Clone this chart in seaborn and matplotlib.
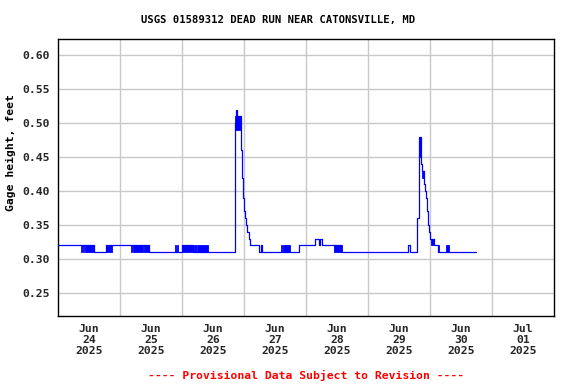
import matplotlib
matplotlib.use("Agg")
import matplotlib.pyplot as plt
import seaborn as sns
import pandas as pd
from matplotlib.ticker import FixedLocator, NullFormatter

# ---- data (hours since 2025-06-24 00:00, gage height in feet) ----
hours = [0.0, 13.9, 18.5, 35.3, 47.9, 52.3, 68.4, 68.6, 68.8, 69.1, 70.7, 71.1,
         71.5, 71.7, 71.9, 72.4, 72.9, 73.3, 73.8, 74.4, 77.7, 78.4, 78.8, 93.4,
         99.6, 101.0, 101.4, 102.1, 109.6, 135.6, 136.1, 139.1, 139.7, 140.4,
         140.8, 141.6, 141.9, 142.3, 142.7, 143.1, 143.6, 144.1, 145.4, 147.0,
         161.8]
gage = [0.32, 0.31, 0.32, 0.31, 0.32, 0.31, 0.38, 0.50, 0.52, 0.51, 0.46, 0.42,
        0.40, 0.39, 0.37, 0.36, 0.35, 0.34, 0.33, 0.32, 0.31, 0.32, 0.31, 0.32,
        0.33, 0.32, 0.33, 0.32, 0.31, 0.32, 0.31, 0.36, 0.48, 0.44,
        0.43, 0.41, 0.40, 0.39, 0.37, 0.35, 0.34, 0.33, 0.32, 0.31,
        0.31]

# rapid fluctuation blocks (start hour, end hour, low, high)
flick_start = [8.8, 9.7, 10.3, 18.5, 28.3, 29.1, 33.3, 45.1, 45.9, 47.9, 52.8, 54.0,
               68.6, 86.3, 87.2, 106.9, 139.7, 140.8, 144.3, 147.0, 150.2]
flick_end = [9.2, 10.1, 13.9, 20.8, 28.8, 32.9, 35.3, 45.6, 46.6, 52.3, 53.4, 58.1,
             70.7, 86.7, 89.8, 110.1, 140.4, 141.6, 145.4, 147.5, 151.4]
flick_lo = [0.31, 0.31, 0.31, 0.31, 0.31, 0.31, 0.31, 0.31, 0.31, 0.31, 0.31, 0.31,
            0.49, 0.31, 0.31, 0.31, 0.45, 0.42, 0.32, 0.31, 0.31]
flick_hi = [0.32, 0.32, 0.32, 0.32, 0.32, 0.32, 0.32, 0.32, 0.32, 0.32, 0.32, 0.32,
            0.51, 0.32, 0.32, 0.32, 0.48, 0.43, 0.33, 0.32, 0.32]

day_labels = ["Jun\n24\n2025", "Jun\n25\n2025", "Jun\n26\n2025", "Jun\n27\n2025",
              "Jun\n28\n2025", "Jun\n29\n2025", "Jun\n30\n2025", "Jul\n01\n2025"]
y_ticks = [0.25, 0.30, 0.35, 0.40, 0.45, 0.50, 0.55, 0.60]

title = "USGS 01589312 DEAD RUN NEAR CATONSVILLE, MD"
ylabel = "Gage height, feet"
footer = "---- Provisional Data Subject to Revision ----"

# ---- plot ----
sns.set_theme(style="white")
plt.rcParams["font.family"] = ["DejaVu Sans Mono", "DejaVu Sans"]
plt.rcParams["font.weight"] = "bold"

fig = plt.figure(figsize=(5.76, 3.84), dpi=100)
ax = fig.add_axes([58 / 576, 1 - 316 / 384, 496 / 576, 277 / 384])

df = pd.DataFrame({"hours": hours, "gage": gage})
sns.lineplot(data=df, x="hours", y="gage", drawstyle="steps-post", color="#0000ff",
             linewidth=0.9, estimator=None, ax=ax, zorder=3)
for s, e, lo, hi in zip(flick_start, flick_end, flick_lo, flick_hi):
    ax.fill_between([s, e], [lo, lo], [hi, hi], color="#0000ff", linewidth=0.6,
                    edgecolor="#0000ff", zorder=3)

ax.set_xlim(0, 24 * len(day_labels))
ax.set_ylim(0.216, 0.624)

ax.xaxis.set_major_locator(FixedLocator([24 * i for i in range(1, len(day_labels))]))
ax.xaxis.set_major_formatter(NullFormatter())
ax.set_xticks([12 + 24 * i for i in range(len(day_labels))], minor=True)
ax.set_xticklabels(day_labels, minor=True, fontsize=8.2, fontweight="bold",
                   linespacing=1.1)
ax.set_yticks(y_ticks)
ax.set_yticklabels([f"{v:.2f}" for v in y_ticks], fontsize=8.2, fontweight="bold")
ax.tick_params(axis="both", which="both", length=0)
ax.tick_params(axis="x", which="minor", pad=6)
ax.tick_params(axis="y", pad=6)

ax.grid(True, which="major", color="#c8c8c8", linewidth=1.0)
ax.set_axisbelow(True)
for sp in ax.spines.values():
    sp.set_color("black")
    sp.set_linewidth(1.0)
    sp.set_visible(True)

ax.set_xlabel("")
ax.set_ylabel("")
fig.text(278 / 576, 1 - 20 / 384, title, ha="center", va="center",
         fontsize=7.6, fontweight="bold", color="black")
fig.text(11 / 576, 1 - 153 / 384, ylabel, ha="center", va="center", rotation=90,
         fontsize=8.2, fontweight="bold", color="black")
fig.text(306 / 576, 1 - 375 / 384, footer, ha="center", va="center",
         fontsize=8.2, fontweight="bold", color="#ff0000")

fig.savefig("out.png", dpi=100)
